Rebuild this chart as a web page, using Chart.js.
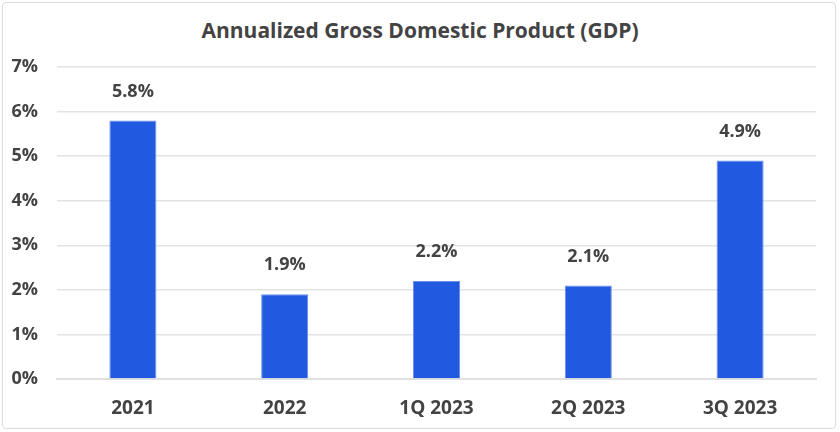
<!DOCTYPE html>
<html lang="en">
<head>
    <meta charset="UTF-8">
    <title>Annualized Gross Domestic Product (GDP)</title>
    <script src="https://cdn.jsdelivr.net/npm/chart.js"></script>
    <style>
        * { box-sizing: border-box; }
        body, html { margin:0; padding:0; width:840px; height:432px; background:#fff; overflow:hidden; }
        #frame {
            position:absolute; left:2px; top:2px; width:834px; height:427px;
            border:1.5px solid #dcdcdc; border-radius:4px; background:#fff;
        }
        #title {
            position:absolute; left:0; top:16px; width:840px; text-align:center;
            font-family:"Open Sans", Arial, sans-serif; font-weight:bold; font-size:21px;
            line-height:28px; color:#434343;
        }
        #wrap { position:absolute; left:0; top:0; width:840px; height:432px; }
    </style>
</head>
<body>
    <div id="frame"></div>
    <div id="title">Annualized Gross Domestic Product (GDP)</div>
    <div id="wrap"><canvas id="gdp-chart"></canvas></div>
    <script>
        const categories = ['2021', '2022', '1Q 2023', '2Q 2023', '3Q 2023'];
        const gdpValues = [5.8, 1.9, 2.2, 2.1, 4.9];
        const yTicks = [0, 1, 2, 3, 4, 5, 6, 7];

        const FONT = '"Open Sans", Arial, sans-serif';
        const TEXT = '#434343';

        // value labels above bars
        const valueLabels = {
            id: 'valueLabels',
            afterDatasetsDraw(chart) {
                const ctx = chart.ctx;
                const meta = chart.getDatasetMeta(0);
                ctx.save();
                ctx.font = `bold 18px ${FONT}`;
                ctx.fillStyle = TEXT;
                ctx.textAlign = 'center';
                ctx.textBaseline = 'middle';
                meta.data.forEach((bar, i) => {
                    ctx.fillText(gdpValues[i].toFixed(1) + '%', bar.x, bar.y - 29);
                });
                ctx.restore();
            }
        };

        new Chart(document.getElementById('gdp-chart'), {
            type: 'bar',
            data: {
                labels: categories,
                datasets: [{
                    data: gdpValues,
                    backgroundColor: '#2259e1',
                    borderColor: '#6b8fec',
                    borderWidth: 1,
                    barPercentage: 0.62,
                    categoryPercentage: 0.5
                }]
            },
            options: {
                responsive: true,
                maintainAspectRatio: false,
                animation: false,
                layout: { padding: { left: 0, right: 24, top: 67, bottom: 0 } },
                plugins: {
                    legend: { display: false },
                    tooltip: { enabled: false },
                    title: { display: false }
                },
                scales: {
                    x: {
                        afterFit: axis => { axis.height = 53; },
                        grid: { display: false },
                        border: { color: '#e0e0e0', width: 2 },
                        ticks: { color: TEXT, font: { family: FONT, size: 19, weight: 'bold' }, padding: 10 }
                    },
                    y: {
                        min: 0, max: 7,
                        afterFit: axis => { axis.width = 57; },
                        afterBuildTicks: axis => { axis.ticks = yTicks.map(v => ({ value: v })); },
                        grid: { color: '#e3e3e3', lineWidth: 1.5, drawTicks: false },
                        border: { display: false },
                        ticks: {
                            color: TEXT, font: { family: FONT, size: 18, weight: 'bold' }, padding: 19,
                            callback: v => v + '%'
                        }
                    }
                }
            },
            plugins: [valueLabels]
        });
    </script>
</body>
</html>
